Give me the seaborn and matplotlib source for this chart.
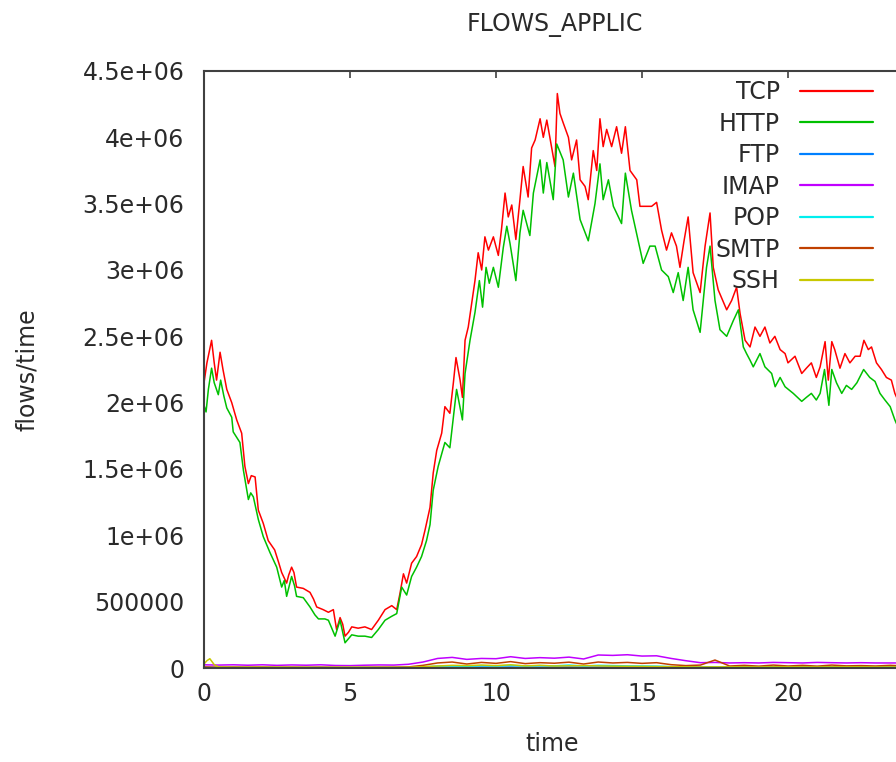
import matplotlib
matplotlib.use("Agg")
import matplotlib.pyplot as plt
import numpy as np
import pandas as pd
import seaborn as sns

# ---------------- data (values in flows/time, millions for TCP/HTTP) ----------------
tcp_t = [0.0, 0.1, 0.26, 0.35, 0.43, 0.55, 0.65, 0.78, 0.95, 1.12, 1.29, 1.40, 1.52, 1.62,
         1.75, 1.86, 2.03, 2.20, 2.42, 2.55, 2.66, 2.83, 2.90, 3.00, 3.08, 3.17, 3.40, 3.63,
         3.75, 3.86, 4.08, 4.26, 4.43, 4.54, 4.66, 4.75, 4.83, 4.95, 5.06, 5.28, 5.51, 5.74,
         5.97, 6.20, 6.43, 6.60, 6.71, 6.83, 6.94, 7.11, 7.28, 7.45, 7.57, 7.74, 7.85, 7.97,
         8.14, 8.25, 8.42, 8.54, 8.63, 8.77, 8.85, 8.94, 9.05, 9.17, 9.28, 9.39, 9.51, 9.62,
         9.74, 9.91, 10.08, 10.19, 10.31, 10.42, 10.54, 10.68, 10.82, 10.93, 11.10, 11.22,
         11.34, 11.51, 11.62, 11.74, 11.90, 12.02, 12.10, 12.19, 12.30, 12.48, 12.59, 12.76,
         12.88, 13.05, 13.16, 13.33, 13.45, 13.56, 13.67, 13.79, 13.96, 14.13, 14.30, 14.43,
         14.59, 14.82, 14.93, 15.16, 15.33, 15.50, 15.67, 15.84, 16.01, 16.18, 16.30, 16.44,
         16.58, 16.75, 16.99, 17.16, 17.33, 17.44, 17.61, 17.90, 18.07, 18.24, 18.36, 18.53,
         18.70, 18.87, 19.04, 19.21, 19.38, 19.55, 19.73, 19.90, 20.00, 20.24, 20.47, 20.63,
         20.80, 20.97, 21.10, 21.27, 21.38, 21.50, 21.60, 21.78, 21.95, 22.12, 22.30, 22.47,
         22.60, 22.75, 22.86, 23.03, 23.20, 23.37, 23.54, 23.66, 23.80]
tcp_v = [2.15, 2.30, 2.47, 2.30, 2.17, 2.38, 2.25, 2.10, 2.00, 1.87, 1.77, 1.52, 1.39, 1.45,
         1.44, 1.19, 1.09, 0.96, 0.89, 0.80, 0.72, 0.64, 0.70, 0.76, 0.72, 0.61, 0.60, 0.57,
         0.52, 0.46, 0.44, 0.42, 0.44, 0.29, 0.38, 0.33, 0.24, 0.27, 0.31, 0.30, 0.31, 0.29,
         0.36, 0.44, 0.47, 0.44, 0.56, 0.71, 0.64, 0.79, 0.84, 0.93, 1.04, 1.21, 1.47, 1.64,
         1.77, 1.97, 1.92, 2.15, 2.34, 2.17, 2.04, 2.47, 2.57, 2.75, 2.92, 3.13, 3.00, 3.25,
         3.15, 3.25, 3.11, 3.31, 3.58, 3.40, 3.49, 3.23, 3.53, 3.78, 3.55, 3.92,
         3.98, 4.14, 4.00, 4.13, 3.93, 3.78, 4.33, 4.18, 4.11, 4.00, 3.83, 3.98,
         3.68, 3.63, 3.53, 3.90, 3.75, 4.14, 3.93, 4.06, 3.93, 4.08, 3.88, 4.08,
         3.75, 3.68, 3.48, 3.48, 3.48, 3.51, 3.30, 3.15, 3.28, 3.18, 3.02, 3.22,
         3.40, 2.98, 2.83, 3.18, 3.43, 3.02, 2.85, 2.70, 2.77, 2.87, 2.67, 2.47,
         2.42, 2.57, 2.50, 2.57, 2.45, 2.50, 2.40, 2.37, 2.30, 2.35, 2.22, 2.26,
         2.30, 2.19, 2.27, 2.46, 2.17, 2.46, 2.40, 2.26, 2.37, 2.30, 2.35, 2.35,
         2.47, 2.40, 2.42, 2.30, 2.25, 2.19, 2.17, 2.07, 2.00]

http_t = [0.0, 0.07, 0.15, 0.26, 0.35, 0.49, 0.57, 0.68, 0.78, 0.95, 1.00, 1.23, 1.35, 1.52,
          1.60, 1.69, 1.86, 2.03, 2.26, 2.49, 2.66, 2.75, 2.83, 3.00, 3.10, 3.17, 3.40, 3.63,
          3.80, 3.92, 4.14, 4.26, 4.49, 4.66, 4.83, 5.06, 5.28, 5.51, 5.74, 5.97, 6.20, 6.43,
          6.60, 6.77, 6.94, 7.11, 7.28, 7.45, 7.62, 7.74, 7.85, 8.02, 8.25, 8.42, 8.54, 8.65,
          8.85, 8.94, 9.11, 9.28, 9.43, 9.54, 9.66, 9.77, 9.91, 10.08, 10.25, 10.37, 10.48,
          10.68, 10.82, 10.93, 11.16, 11.28, 11.51, 11.62, 11.74, 11.96, 12.08, 12.30, 12.48,
          12.65, 12.88, 13.16, 13.39, 13.56, 13.67, 13.85, 14.02, 14.30, 14.43, 14.64, 14.87,
          15.04, 15.27, 15.45, 15.67, 15.90, 16.07, 16.24, 16.41, 16.58, 16.75, 16.99, 17.21,
          17.33, 17.50, 17.67, 17.90, 18.13, 18.30, 18.47, 18.58, 18.70, 18.81, 19.04, 19.21,
          19.44, 19.56, 19.73, 19.90, 20.18, 20.47, 20.63, 20.80, 20.97, 21.10, 21.25, 21.40,
          21.50, 21.66, 21.84, 22.00, 22.18, 22.36, 22.59, 22.80, 22.98, 23.15, 23.32, 23.50,
          23.66, 23.80]
http_v = [1.98, 1.93, 2.10, 2.26, 2.15, 2.06, 2.17, 2.05, 1.96, 1.89, 1.78, 1.70, 1.49, 1.27,
          1.32, 1.29, 1.12, 0.99, 0.87, 0.76, 0.61, 0.66, 0.54, 0.69, 0.62, 0.54, 0.53, 0.46,
          0.40, 0.37, 0.37, 0.36, 0.24, 0.36, 0.19, 0.25, 0.24, 0.24, 0.23, 0.29, 0.36, 0.39,
          0.41, 0.61, 0.55, 0.69, 0.76, 0.84, 0.96, 1.08, 1.34, 1.52, 1.70, 1.66, 1.89, 2.10,
          1.87, 2.22, 2.47, 2.68, 2.92, 2.72, 3.02, 2.90, 3.02, 2.87, 3.17, 3.33, 3.20,
          2.92, 3.28, 3.45, 3.26, 3.58, 3.83, 3.58, 3.81, 3.53, 3.95, 3.83, 3.55,
          3.73, 3.38, 3.22, 3.50, 3.80, 3.53, 3.68, 3.48, 3.35, 3.73, 3.45, 3.22,
          3.05, 3.18, 3.18, 3.00, 2.95, 2.83, 2.98, 2.77, 3.02, 2.70, 2.53, 3.02,
          3.18, 2.77, 2.55, 2.50, 2.62, 2.70, 2.42, 2.37, 2.32, 2.27, 2.37, 2.27,
          2.22, 2.12, 2.19, 2.12, 2.07, 2.01, 2.04, 2.07, 2.02, 2.07, 2.25, 1.98,
          2.25, 2.15, 2.07, 2.13, 2.10, 2.15, 2.25, 2.19, 2.16, 2.07, 2.02, 1.97,
          1.87, 1.80]

# small protocols, half-hour samples (thousands)
small_t = [0.0, 0.5, 1.0, 1.5, 2.0, 2.5, 3.0, 3.5, 4.0, 4.5, 5.0, 5.5, 6.0, 6.5, 7.0, 7.5,
           8.0, 8.5, 9.0, 9.5, 10.0, 10.5, 11.0, 11.5, 12.0, 12.5, 13.0, 13.5, 14.0, 14.5,
           15.0, 15.5, 16.0, 16.5, 17.0, 17.5, 18.0, 18.5, 19.0, 19.5, 20.0, 20.5, 21.0,
           21.5, 22.0, 22.5, 23.0, 23.5, 24.0]
imap_k = [24, 22, 24, 21, 24, 20, 23, 21, 24, 19, 18, 21, 23, 22, 28, 45,
          72, 80, 65, 72, 70, 85, 72, 78, 74, 82, 68, 98, 95, 100,
          90, 92, 72, 55, 40, 42, 38, 40, 38, 42, 40, 38, 42,
          40, 38, 40, 38, 38, 38]
smtp_k = [8, 6, 7, 6, 7, 5, 6, 5, 6, 5, 4, 5, 6, 6, 8, 20,
          38, 45, 30, 42, 35, 48, 33, 40, 36, 44, 30, 45, 38, 42,
          35, 40, 25, 18, 22, 60, 15, 20, 14, 22, 15, 20, 14,
          22, 16, 18, 15, 20, 15]
pop_k = [3, 3, 3, 3, 3, 3, 3, 3, 3, 2, 2, 3, 3, 3, 4, 8,
         14, 16, 12, 18, 15, 20, 14, 18, 16, 22, 15, 20, 18, 16,
         15, 14, 10, 8, 8, 9, 8, 8, 7, 8, 8, 7, 8,
         8, 7, 8, 7, 8, 7]
ftp_k = [3, 2, 3, 2, 3, 2, 2, 2, 3, 2, 2, 2, 2, 2, 3, 4,
         5, 6, 5, 7, 6, 7, 5, 6, 6, 7, 5, 6, 6, 5,
         5, 5, 4, 4, 3, 4, 3, 3, 3, 4, 3, 3, 3,
         3, 3, 3, 3, 3, 3]
ssh_t = [0.0, 0.1, 0.2, 0.35, 0.5, 1.0, 2.0, 3.0, 4.0, 5.0, 6.0, 7.0, 7.5, 8.0, 8.5, 9.0,
         9.5, 10.0, 10.5, 11.0, 11.5, 12.0, 13.0, 14.0, 15.0, 16.0, 17.0, 18.0, 19.0, 20.0,
         21.0, 22.0, 23.0, 24.0]
ssh_k = [30, 55, 70, 25, 8, 6, 7, 6, 5, 6, 5, 6, 10, 15, 20, 18,
         22, 18, 24, 16, 20, 15, 18, 14, 12, 10, 8, 9, 8, 9,
         8, 9, 8, 8]

names = ["TCP", "HTTP", "FTP", "IMAP", "POP", "SMTP", "SSH"]
colors = ["#ff0000", "#00c000", "#0080ff", "#c000ff", "#00eeee", "#c04000", "#c8c800"]
yticks = [0, 500000, 1000000, 1500000, 2000000, 2500000, 3000000, 3500000, 4000000, 4500000]
ytick_labels = ["0", "500000", "1e+06", "1.5e+06", "2e+06", "2.5e+06", "3e+06",
                "3.5e+06", "4e+06", "4.5e+06"]
xticks = [0, 5, 10, 15, 20]

# ---------------- build long table ----------------
frames = [
    pd.DataFrame({"time": tcp_t, "flows": np.array(tcp_v) * 1e6, "proto": "TCP"}),
    pd.DataFrame({"time": http_t, "flows": np.array(http_v) * 1e6, "proto": "HTTP"}),
    pd.DataFrame({"time": small_t, "flows": np.array(ftp_k) * 1e3, "proto": "FTP"}),
    pd.DataFrame({"time": small_t, "flows": np.array(imap_k) * 1e3, "proto": "IMAP"}),
    pd.DataFrame({"time": small_t, "flows": np.array(pop_k) * 1e3, "proto": "POP"}),
    pd.DataFrame({"time": small_t, "flows": np.array(smtp_k) * 1e3, "proto": "SMTP"}),
    pd.DataFrame({"time": ssh_t, "flows": np.array(ssh_k) * 1e3, "proto": "SSH"}),
]
df = pd.concat(frames, ignore_index=True)

# ---------------- plot ----------------
sns.set_style("white")
plt.rcParams["font.family"] = ["DejaVu Sans"]
text_col = "#2a2a2a"

fig = plt.figure(figsize=(8.96, 7.62), dpi=100)
ax = fig.add_axes([204 / 896, 94 / 762, 700.8 / 896, 597 / 762])

sns.lineplot(data=df, x="time", y="flows", hue="proto", hue_order=names,
             palette=dict(zip(names, colors)), estimator=None, linewidth=1.1,
             legend=False, ax=ax)

ax.set_xlim(0, 24)
ax.set_ylim(0, 4500000)
ax.set_xticks(xticks)
ax.set_xticklabels([str(v) for v in xticks])
ax.set_yticks(yticks)
ax.set_yticklabels(ytick_labels)

ax.tick_params(axis="both", direction="in", length=5, width=1.2, colors="#404040",
               labelcolor=text_col, labelsize=17, top=True, right=True)
ax.tick_params(axis="y", pad=14)
ax.tick_params(axis="x", pad=10)

for s in ax.spines.values():
    s.set_color("#404040")
    s.set_linewidth(1.5)
    s.set_visible(True)

ax.set_xlabel("time", fontsize=17, color=text_col)
ax.set_ylabel("flows/time", fontsize=17, color=text_col)
ax.xaxis.set_label_coords(0.497, -0.108)
ax.yaxis.set_label_coords(-0.235, 0.5)
ax.set_title("FLOWS_APPLIC", fontsize=17, color=text_col, pad=29)

handles = ax.get_lines()[:len(names)]
leg = ax.legend(handles, names, loc="upper right", bbox_to_anchor=(0.9546, 0.985),
                frameon=False, markerfirst=False, fontsize=17, handlelength=3.1,
                handletextpad=0.85, labelspacing=0.32, borderpad=0, borderaxespad=0)
for t in leg.get_texts():
    t.set_color(text_col)
for h in leg.get_lines():
    h.set_linewidth(1.6)

fig.savefig("out.png", dpi=100)
